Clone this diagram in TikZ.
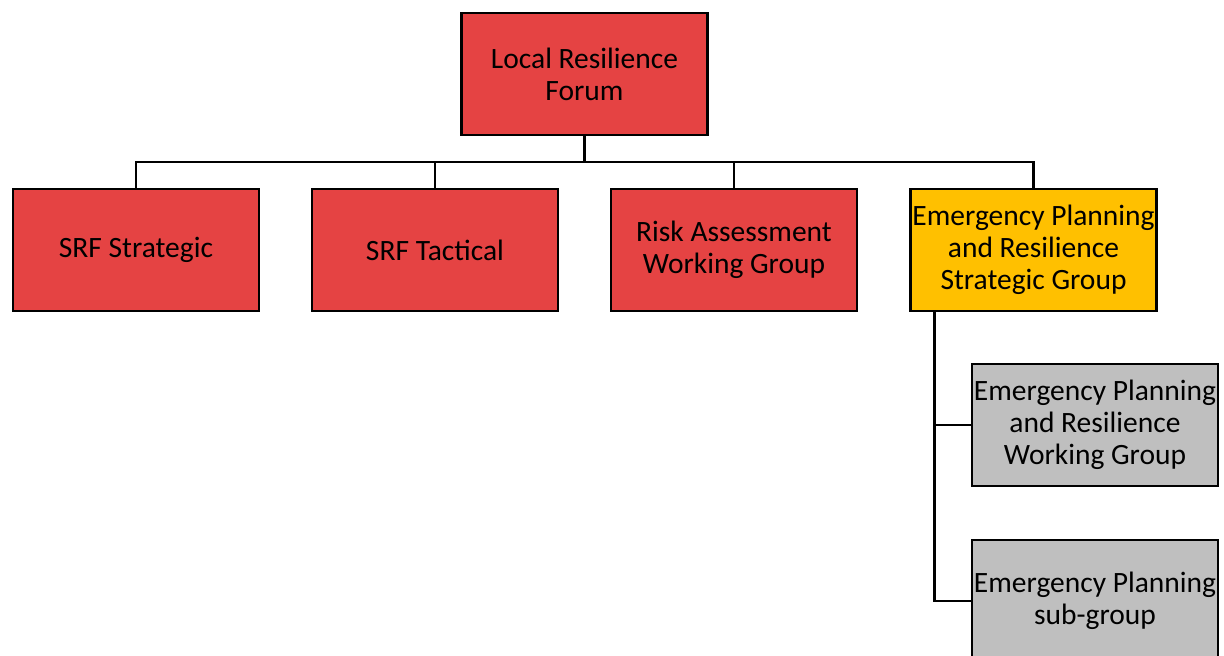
\documentclass[tikz,border=0pt]{standalone}
\usepackage{fontspec}
\setmainfont{Carlito}
\definecolor{boxred}{HTML}{E54343}
\definecolor{boxyellow}{HTML}{FFC000}
\definecolor{boxgray}{HTML}{BFBFBF}
\begin{document}
\begin{tikzpicture}[x=1pt,y=-1pt,
  box/.style={draw=black,line width=2.7pt,minimum width=246pt,minimum height=122pt,
    inner sep=0pt,align=center,font=\fontsize{29.5}{32}\selectfont,text=black},
  link/.style={draw=black,line width=2.5pt}]
\useasboundingbox (0,0) rectangle (1224,656);
\node[box,fill=boxred] (lrf) at (584.5,74) {Local Resilience\\Forum};
\node[box,fill=boxred] (s1) at (136,250) {SRF Strategic};
\node[box,fill=boxred] (s2) at (435,250) {SRF Tactical};
\node[box,fill=boxred] (s3) at (734,250) {Risk Assessment\\Working Group};
\node[box,fill=boxyellow] (s4) at (1033.5,250) {Emergency Planning\\and Resilience\\Strategic Group};
\node[box,fill=boxgray] (g1) at (1095,425) {Emergency Planning\\and Resilience\\Working Group};
\node[box,fill=boxgray] (g2) at (1095,601) {Emergency Planning\\sub-group};
\coordinate (bus) at (584.5,162);
\draw[link] (lrf.south) -- (bus);
\draw[link] (s1.north) |- (bus) -| (s4.north);
\draw[link] (s2.north) -- (s2.north |- bus);
\draw[link] (s3.north) -- (s3.north |- bus);
\coordinate (trunk) at (934.5,312);
\draw[link] (trunk) |- (g2.west);
\draw[link] (trunk |- g1.west) -- (g1.west);
\end{tikzpicture}
\end{document}
